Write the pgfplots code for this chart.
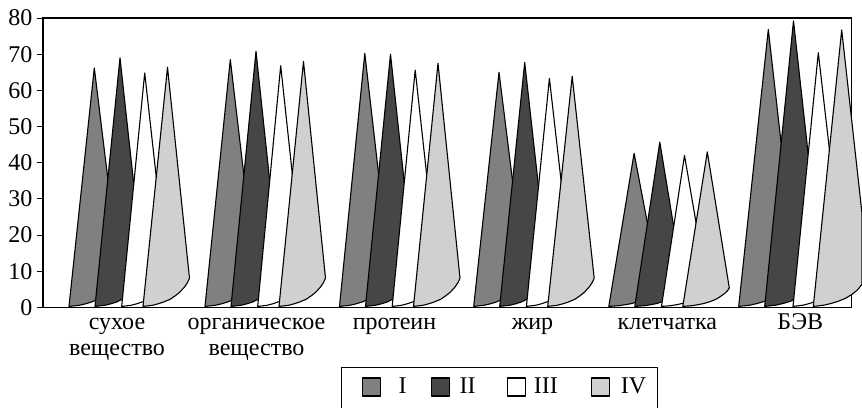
\documentclass[border=0pt]{standalone}
\usepackage{pgfplots}
\pgfplotsset{compat=1.18}
\usepackage{fontspec}
\setmainfont{Liberation Serif}
\definecolor{cI}{HTML}{808080}
\definecolor{cII}{HTML}{464646}
\definecolor{cIII}{HTML}{FFFFFF}
\definecolor{cIV}{HTML}{D0D0D0}
\tikzset{cone/.style={draw=black,line width=1.1pt,line join=round}}
\newcommand{\st}{\rule{0pt}{18pt}}
\begin{document}
\begin{tikzpicture}
\useasboundingbox (-43pt,-99.5pt) rectangle (819pt,307.5pt);
\begin{axis}[
  scale only axis, width=808.5pt, height=289.5pt,
  xmin=43, xmax=851.5, ymin=0, ymax=80,
  clip=false,
  axis line style={line width=1.1pt},
  tick style={line width=1pt,black},
  ytick={0,10,...,80},
  y tick label style={/pgf/number format/assume math mode=true,font=\fontsize{24}{26}\selectfont,xshift=-1pt},
  ytick align=outside, ytick pos=left,
  major tick length=6pt,
  xtick={117,256.5,394.5,532.5,667.3,800.3},
  xticklabels={{\st сухое\\вещество},{\st органическое\\вещество},\st протеин,\st жир,\st клетчатка,\st БЭВ},
  x tick label style={align=center,font=\fontsize{24}{26.5}\selectfont,text depth=0pt},
  xtick style={draw=none},
  legend columns=-1,
  legend style={at={(axis cs:341,-16.4)},anchor=north west,draw=black,line width=1.1pt,
    font=\fontsize{24}{26}\selectfont,inner xsep=11pt,inner ysep=10pt,
    nodes={inner sep=0pt},
    /tikz/column sep=0pt},
]
\pgfplotsset{legend image code/.code={\draw[pgfplots/.cd,#1] (0pt,-10pt) rectangle (18pt,8pt);\path (-9pt,-30pt);}}
% Group 1
\addplot[cone,fill=cI] coordinates {(69,0.3) (94.3,66.2) (120,8.1) (114.9,5.8) (104.7,3.3) (92,1.55) (85.3,1) (79.2,0.6)} --cycle;
\addlegendentry{\hspace*{18pt}I\hspace*{15pt}}
\addplot[cone,fill=cII] coordinates {(95,0.3) (120,69) (144,8.1) (139.1,5.8) (129.3,3.3) (117,1.55) (110.7,1) (104.8,0.6)} --cycle;
\addlegendentry{\hspace*{10pt}II\hspace*{22pt}}
\addplot[cone,fill=cIII] coordinates {(121.7,0.3) (144.7,64.8) (167.5,8.1) (162.9,5.8) (153.8,3.3) (142.3,1.55) (136.4,1) (130.9,0.6)} --cycle;
\addlegendentry{\hspace*{8pt}III\hspace*{24pt}}
\addplot[cone,fill=cIV] coordinates {(143,0.3) (167.5,66.4) (189.5,8.1) (187.6,6.95) (184.9,5.8) (180.2,4.35) (175.6,3.3) (170,2.25) (163.9,1.55) (157.9,1) (152.3,0.6)} --cycle;
\addlegendentry{\hspace*{11pt}IV}
% Group 2
\addplot[cone,fill=cI,forget plot] coordinates {(205,0.3) (230.3,68.5) (256,8.1) (250.9,5.8) (240.7,3.3) (228,1.55) (221.3,1) (215.2,0.6)} --cycle;
\addplot[cone,fill=cII,forget plot] coordinates {(231,0.3) (256,70.8) (280,8.1) (275.1,5.8) (265.3,3.3) (253,1.55) (246.7,1) (240.8,0.6)} --cycle;
\addplot[cone,fill=cIII,forget plot] coordinates {(257.7,0.3) (280.7,66.8) (303.5,8.1) (298.9,5.8) (289.8,3.3) (278.3,1.55) (272.4,1) (266.9,0.6)} --cycle;
\addplot[cone,fill=cIV,forget plot] coordinates {(279,0.3) (303.5,68) (325.5,8.1) (323.6,6.95) (320.9,5.8) (316.2,4.35) (311.6,3.3) (306,2.25) (299.9,1.55) (293.9,1) (288.3,0.6)} --cycle;
% Group 3
\addplot[cone,fill=cI,forget plot] coordinates {(339.5,0.3) (364.8,70.2) (390.5,8.1) (385.4,5.8) (375.2,3.3) (362.5,1.55) (355.8,1) (349.7,0.6)} --cycle;
\addplot[cone,fill=cII,forget plot] coordinates {(365.5,0.3) (390.5,70) (414.5,8.1) (409.6,5.8) (399.8,3.3) (387.5,1.55) (381.2,1) (375.3,0.6)} --cycle;
\addplot[cone,fill=cIII,forget plot] coordinates {(392.2,0.3) (415.2,65.6) (438,8.1) (433.4,5.8) (424.3,3.3) (412.8,1.55) (406.9,1) (401.4,0.6)} --cycle;
\addplot[cone,fill=cIV,forget plot] coordinates {(413.5,0.3) (438,67.5) (460,8.1) (458.1,6.95) (455.4,5.8) (450.7,4.35) (446.1,3.3) (440.5,2.25) (434.4,1.55) (428.4,1) (422.8,0.6)} --cycle;
% Group 4
\addplot[cone,fill=cI,forget plot] coordinates {(473.7,0.3) (499,65) (524.7,8.1) (519.6,5.8) (509.4,3.3) (496.7,1.55) (490,1) (483.9,0.6)} --cycle;
\addplot[cone,fill=cII,forget plot] coordinates {(499.7,0.3) (524.7,67.7) (548.7,8.1) (543.8,5.8) (534,3.3) (521.7,1.55) (515.4,1) (509.5,0.6)} --cycle;
\addplot[cone,fill=cIII,forget plot] coordinates {(526.4,0.3) (549.4,63.3) (572.2,8.1) (567.6,5.8) (558.5,3.3) (547,1.55) (541.1,1) (535.6,0.6)} --cycle;
\addplot[cone,fill=cIV,forget plot] coordinates {(547.7,0.3) (572.2,63.9) (594.2,8.1) (592.3,6.95) (589.6,5.8) (584.9,4.35) (580.3,3.3) (574.7,2.25) (568.6,1.55) (562.6,1) (557,0.6)} --cycle;
% Group 5
\addplot[cone,fill=cI,forget plot] coordinates {(608.8,0.3) (634.1,42.6) (659.8,5.4) (654.7,3.9) (644.5,2.2) (631.8,1.1) (625.1,0.76) (619,0.5)} --cycle;
\addplot[cone,fill=cII,forget plot] coordinates {(634.8,0.3) (659.8,45.7) (683.8,5.4) (678.9,3.9) (669.1,2.2) (656.8,1.1) (650.5,0.76) (644.6,0.5)} --cycle;
\addplot[cone,fill=cIII,forget plot] coordinates {(661.5,0.3) (684.5,42) (707.3,5.4) (702.7,3.9) (693.6,2.2) (682.1,1.1) (676.2,0.76) (670.7,0.5)} --cycle;
\addplot[cone,fill=cIV,forget plot] coordinates {(682.8,0.3) (707.3,43) (729.3,5.4) (727.4,4.6) (724.7,3.9) (720,2.95) (715.4,2.2) (709.8,1.6) (703.7,1.1) (697.7,0.76) (692.1,0.5)} --cycle;
% Group 6
\addplot[cone,fill=cI,forget plot] coordinates {(738.7,0.3) (768.3,76.8) (796,9) (790.3,6.4) (778.8,3.6) (764.5,1.7) (757,1.1) (750.2,0.65)} --cycle;
\addplot[cone,fill=cII,forget plot] coordinates {(764.7,0.3) (793.5,79.2) (821.5,9) (815.8,6.4) (804.5,3.6) (790.3,1.7) (782.9,1.1) (776,0.65)} --cycle;
\addplot[cone,fill=cIII,forget plot] coordinates {(793,0.3) (818.3,70.4) (843.8,9) (838.7,6.4) (828.6,3.6) (815.9,1.7) (809.3,1.1) (803.2,0.65)} --cycle;
\addplot[cone,fill=cIV,forget plot] coordinates {(813.3,0.3) (841.7,76.7) (862,26) (862,6.4) (857.3,4.8) (851.8,3.6) (845.2,2.5) (838,1.7) (830.9,1.1) (824.3,0.65)} --cycle;
\end{axis}
\end{tikzpicture}
\end{document}
